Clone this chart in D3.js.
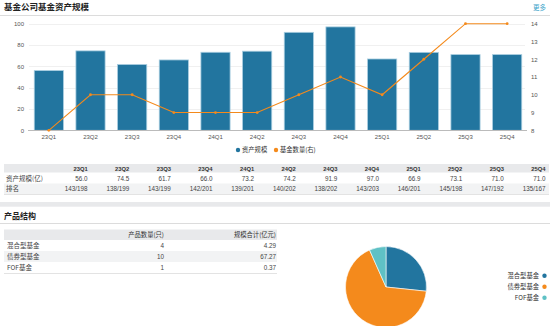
<!DOCTYPE html>
<html><head><meta charset="utf-8">
<script src="https://cdn.jsdelivr.net/npm/d3@7"></script>
<style>
html,body{margin:0;padding:0;background:#fff;}
svg{display:block;font-family:"Noto Sans CJK SC","Noto Sans",sans-serif;}
</style></head>
<body>
<svg id="c" width="550" height="326"></svg>
<script>
const quarters = ["23Q1","23Q2","23Q3","23Q4","24Q1","24Q2","24Q3","24Q4","25Q1","25Q2","25Q3","25Q4"];
const assets = [56.0,74.5,61.7,66.0,73.2,74.2,91.9,97.0,66.9,73.1,71.0,71.0];
const fundCounts = [8,10,10,9,9,9,10,11,10,12,14,14];
const ranks = ["143/198","138/199","143/199","142/201","139/201","140/202","138/202","143/203","146/201","145/198","147/192","135/167"];
const leftTicks = [0,20,40,60,80,100];
const rightTicks = [8,9,10,11,12,13,14];
const seriesNames = ["资产规模","基金数量(右)"];
const productTypes = ["混合型基金","债券型基金","FOF基金"];
const productCounts = [4,10,1];
const productScale = ["4.29","67.27","0.37"];
const productHeaders = ["产品数量(只)","规模合计(亿元)"];

const BLUE = "#22759f", ORANGE = "#f48a1c", TEAL = "#5fc1c5";
const svg = d3.select("#c");

// Title
svg.append("text").attr("x",4).attr("y",10).attr("font-size",8.5).attr("font-weight","bold").attr("fill","#222").text("基金公司基金资产规模");
svg.append("text").attr("x",546).attr("y",9.5).attr("text-anchor","end").attr("font-size",6.5).attr("fill","#3aa3c9").text("更多");
svg.append("line").attr("x1",0).attr("x2",550).attr("y1",15.5).attr("y2",15.5).attr("stroke","#dcdcdc");

// Chart scales
const x = d3.scaleBand().domain(quarters).range([28,528]).paddingInner(0.3).paddingOuter(0.15);
const yL = d3.scaleLinear().domain([0,100]).range([130.3,23.7]);
const yR = d3.scaleLinear().domain([8,14]).range([130.3,23.7]);

// grid
svg.append("g").selectAll("line").data(leftTicks.slice(1)).join("line")
  .attr("x1",29).attr("x2",525).attr("y1",d=>Math.round(yL(d))+0.5).attr("y2",d=>Math.round(yL(d))+0.5)
  .attr("stroke","#f0f0f0");

// left axis
const gL = svg.append("g").attr("transform","translate(28,0)").call(d3.axisLeft(yL).tickValues(leftTicks).tickFormat(d3.format("d")).tickSize(0).tickPadding(4));
gL.select(".domain").remove();
gL.selectAll("text").attr("font-size",6).attr("fill","#555").attr("font-family","'Liberation Sans',sans-serif");

// right axis
const gR = svg.append("g").attr("transform","translate(527,0)").call(d3.axisRight(yR).tickValues(rightTicks).tickFormat(d3.format("d")).tickSize(0).tickPadding(4));
gR.select(".domain").remove();
gR.selectAll("text").attr("font-size",6).attr("fill","#555").attr("font-family","'Liberation Sans',sans-serif");

// bars
svg.append("g").selectAll("rect").data(quarters).join("rect")
  .attr("x",(d)=>x(d)).attr("width",x.bandwidth())
  .attr("y",(d,i)=>yL(assets[i])).attr("height",(d,i)=>yL(0)-yL(assets[i]))
  .attr("fill",BLUE).attr("stroke","#a8cde0").attr("stroke-width",0.8);

// baseline
svg.append("line").attr("x1",28).attr("x2",527).attr("y1",130.5).attr("y2",130.5).attr("stroke","#bbb");

// x axis labels
const gX = svg.append("g").attr("transform","translate(0,131)").call(d3.axisBottom(x).tickSize(0).tickPadding(4));
gX.select(".domain").remove();
gX.selectAll("text").attr("font-size",6).attr("fill","#555").attr("font-family","'Liberation Sans',sans-serif");

// line
const line = d3.line().x((d,i)=>x(quarters[i])+x.bandwidth()/2).y(d=>yR(d));
svg.append("path").datum(fundCounts).attr("d",line).attr("fill","none").attr("stroke",ORANGE).attr("stroke-width",1.1);
svg.append("g").selectAll("circle").data(fundCounts).join("circle")
  .attr("cx",(d,i)=>x(quarters[i])+x.bandwidth()/2).attr("cy",d=>yR(d)).attr("r",1.4).attr("fill",ORANGE);

// legend
const leg = svg.append("g");
const legX = [238, 276];
const legC = [BLUE, ORANGE];
seriesNames.forEach((n,i)=>{
  leg.append("circle").attr("cx",legX[i]).attr("cy",150).attr("r",2.2).attr("fill",legC[i]);
  leg.append("text").attr("x",legX[i]+4).attr("y",152.3).attr("font-size",6.3).attr("fill","#333").text(n);
});

// Table 1
const tx = d3.scaleBand().domain(quarters).range([46,545.5]);
const tY = [164,172.5,183.5,194];
svg.append("rect").attr("x",4).attr("y",tY[0]).attr("width",545).attr("height",tY[1]-tY[0]).attr("fill","#e8e9eb");
svg.append("rect").attr("x",4).attr("y",tY[2]).attr("width",545).attr("height",tY[3]-tY[2]).attr("fill","#f2f3f4");
svg.append("line").attr("x1",4).attr("x2",549).attr("y1",194.5).attr("y2",194.5).attr("stroke","#e3e3e3");
svg.append("g").selectAll("text").data(quarters).join("text")
  .attr("x",d=>tx(d)+tx.bandwidth()).attr("y",170.5).attr("text-anchor","end")
  .attr("font-size",5.8).attr("font-weight","bold").attr("fill","#333").attr("font-family","'Liberation Sans',sans-serif").text(d=>d);
svg.append("g").selectAll("text").data(assets).join("text")
  .attr("x",(d,i)=>tx(quarters[i])+tx.bandwidth()).attr("y",180.5).attr("text-anchor","end")
  .attr("font-size",6.3).attr("fill","#444").attr("font-family","'Liberation Sans',sans-serif").text(d=>d.toFixed(1));
svg.append("g").selectAll("text").data(ranks).join("text")
  .attr("x",(d,i)=>tx(quarters[i])+tx.bandwidth()).attr("y",191).attr("text-anchor","end")
  .attr("font-size",6.3).attr("fill","#444").attr("font-family","'Liberation Sans',sans-serif").text(d=>d);
svg.append("text").attr("x",6).attr("y",180.8).attr("font-size",6.5).attr("fill","#444").text("资产规模(亿)");
svg.append("text").attr("x",6).attr("y",191.3).attr("font-size",6.5).attr("fill","#444").text("排名");

// section separator
svg.append("rect").attr("x",0).attr("y",202).attr("width",550).attr("height",4.7).attr("fill","#e8e9eb");
svg.append("text").attr("x",4).attr("y",218.5).attr("font-size",8).attr("font-weight","bold").attr("fill","#222").text("产品结构");
svg.append("line").attr("x1",0).attr("x2",550).attr("y1",223.5).attr("y2",223.5).attr("stroke","#dcdcdc");

// Table 2
const rowTop = [229.5,240,251,262,273];
svg.append("rect").attr("x",4).attr("y",rowTop[0]).attr("width",273).attr("height",rowTop[1]-rowTop[0]).attr("fill","#e8e9eb");
svg.append("rect").attr("x",4).attr("y",rowTop[2]).attr("width",273).attr("height",rowTop[3]-rowTop[2]).attr("fill","#f2f3f4");
svg.append("line").attr("x1",4).attr("x2",277).attr("y1",273.5).attr("y2",273.5).attr("stroke","#e3e3e3");
const colR = [164,276];
productHeaders.forEach((h,i)=>{
  svg.append("text").attr("x",colR[i]).attr("y",237.3).attr("text-anchor","end").attr("font-size",6.3).attr("fill","#333").text(h);
});
productTypes.forEach((t,i)=>{
  const yy = rowTop[i+1]+8;
  svg.append("text").attr("x",7).attr("y",yy).attr("font-size",6.5).attr("fill","#444").text(t);
  svg.append("text").attr("x",colR[0]).attr("y",yy).attr("text-anchor","end").attr("font-size",6.3).attr("fill","#444").attr("font-family","'Liberation Sans',sans-serif").text(productCounts[i]);
  svg.append("text").attr("x",colR[1]).attr("y",yy).attr("text-anchor","end").attr("font-size",6.3).attr("fill","#444").attr("font-family","'Liberation Sans',sans-serif").text(productScale[i]);
});

// Pie
const pieColors = [BLUE, ORANGE, TEAL];
const pie = d3.pie().sort(null).value(d=>d)(productCounts);
const arc = d3.arc().innerRadius(0).outerRadius(40.5);
svg.append("g").attr("transform","translate(386,287)").selectAll("path").data(pie).join("path")
  .attr("d",arc).attr("fill",(d,i)=>pieColors[i]).attr("stroke","#fff").attr("stroke-width",0.6);

// Pie legend
productTypes.forEach((t,i)=>{
  const yy = 275.7 + i*11;
  svg.append("circle").attr("cx",544.5).attr("cy",yy).attr("r",2.2).attr("fill",pieColors[i]);
  svg.append("text").attr("x",539).attr("y",yy+2.2).attr("text-anchor","end").attr("font-size",6.3).attr("fill","#333").text(t);
});
</script>
</body></html>
